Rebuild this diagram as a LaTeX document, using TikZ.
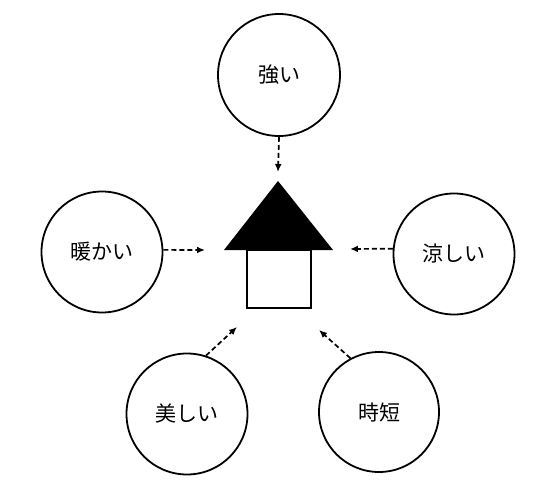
\documentclass[tikz,border=0pt]{standalone}
\usepackage{fontspec}
\newfontfamily\cjk{Noto Sans CJK JP}
\usetikzlibrary{arrows.meta, positioning}
\tikzset{
  trait/.style = {draw, line width=1.8pt, circle, inner sep=0pt, font=\cjk\fontsize{21pt}{25pt}\selectfont},
  flow/.style  = {-{Latex[length=2.8mm,width=2.4mm]}, line width=1.7pt, dash pattern=on 5pt off 3pt},
}
\begin{document}
\begin{tikzpicture}[x=1pt, y=-1pt]
    \useasboundingbox (0,0) rectangle (559,490);

    % --- house ---
    \fill[black] (224,250) -- (278,181) -- (333,250) -- cycle;
    \draw[line width=1.8pt] (247,250) rectangle (311,308);

    % --- circles ---
    \node[trait, minimum size=122pt] (strong) at (279,75) {強い};
    \node[trait, minimum size=121pt] (warm) at (102,252) {暖かい};
    \node[trait, minimum size=121pt] (cool) at (454,254) {涼しい};
    \node[trait, minimum size=121pt] (pretty) at (187,414) {美しい};
    \node[trait, minimum size=120pt] (short) at (379,412) {時短};

    % free ends next to the house
    \coordinate (strongend) at (278,172);
    \coordinate (warmend) at (205,250);
    \coordinate (coolend) at (350,249);
    \coordinate (prettyend) at (237,327);
    \coordinate (shortend) at (319,330);

    \draw[flow] (strong.south) -- (strongend);
    \draw[flow] (warm.2) -- (warmend);
    \draw[flow] (cool.175) -- (coolend);
    \draw[flow] (pretty.72) -- (prettyend);
    \draw[flow] (short.118) -- (shortend);
\end{tikzpicture}
\end{document}
